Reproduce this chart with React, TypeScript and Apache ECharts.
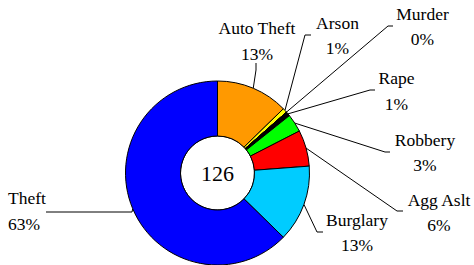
import React, { useEffect, useRef } from "react";
import * as echarts from "echarts";

const categories = ["Auto Theft", "Arson", "Murder", "Rape", "Robbery", "Agg Aslt", "Burglary", "Theft"];
const counts = [16, 1, 0, 1, 4, 8, 17, 79];
const sliceColors = ["#FF9900", "#FFFF00", "#993366", "#000000", "#00FF00", "#FF0000", "#00CCFF", "#0000FF"];

// label placement (layout only)
const labelSpots: { x: number; y: number; align: string; elbow: number[]; end: number[] }[] = [
  { x: 257, y: 41, align: "center", elbow: [256, 70], end: [256, 63] },
  { x: 337.5, y: 35.5, align: "center", elbow: [305, 35], end: [311, 35] },
  { x: 422.5, y: 26.5, align: "center", elbow: [388, 26], end: [393, 26] },
  { x: 396.5, y: 91, align: "center", elbow: [370, 90], end: [375, 90] },
  { x: 425, y: 152.5, align: "center", elbow: [385, 152], end: [390, 152] },
  { x: 439, y: 212.5, align: "center", elbow: [397, 211], end: [403, 211] },
  { x: 357, y: 232.5, align: "center", elbow: [317, 232], end: [323, 232] },
  { x: 8, y: 211, align: "left", elbow: [132, 212], end: [46, 212] },
];

const FONT = "serif";

export default function App() {
  const ref = useRef<HTMLDivElement>(null);
  useEffect(() => {
    if (!ref.current) return;
    const chart = echarts.init(ref.current, null, { renderer: "svg" });
    const total = counts.reduce((a, b) => a + b, 0);
    chart.setOption({
      animation: false,
      backgroundColor: "#ffffff",
      textStyle: { fontFamily: FONT },
      series: [
        {
          type: "pie",
          center: [217.5, 173],
          radius: [0, 37],
          silent: true,
          z: 1,
          itemStyle: { color: "#ffffff", borderColor: "#000", borderWidth: 1 },
          label: {
            show: true,
            position: "center",
            formatter: () => String(total),
            fontFamily: FONT,
            fontSize: 22,
            color: "#000",
          },
          labelLine: { show: false },
          data: [{ value: total, name: "total" }],
        },
        {
          type: "pie",
          center: [217.5, 173],
          radius: [37, 92],
          startAngle: 90,
          clockwise: true,
          avoidLabelOverlap: false,
          silent: true,
          z: 2,
          itemStyle: { borderColor: "#000", borderWidth: 1 },
          label: {
            show: true,
            position: "outside",
            formatter: (p: any) => `${p.name}\n${Math.round((p.value / total) * 100)}%`,
            fontFamily: FONT,
            fontSize: 17.5,
            lineHeight: 25.5,
            color: "#000",
          },
          labelLine: { show: true, smooth: false, lineStyle: { color: "#000", width: 1 } },
          labelLayout: (params: any) => {
            const s = labelSpots[params.dataIndex];
            const start = params.labelLinePoints ? params.labelLinePoints[0] : s.elbow;
            return {
              x: s.x,
              y: s.y,
              align: s.align,
              verticalAlign: "middle",
              labelLinePoints: [start, s.elbow, s.end],
            };
          },
          data: categories.map((c, i) => ({
            name: c,
            value: counts[i],
            itemStyle: { color: sliceColors[i] },
          })),
        },
      ],
    });
    return () => chart.dispose();
  }, []);
  return (
    <div
      ref={ref}
      style={{ position: "fixed", left: 0, top: 0, width: 474, height: 265, background: "#fff" }}
    />
  );
}
